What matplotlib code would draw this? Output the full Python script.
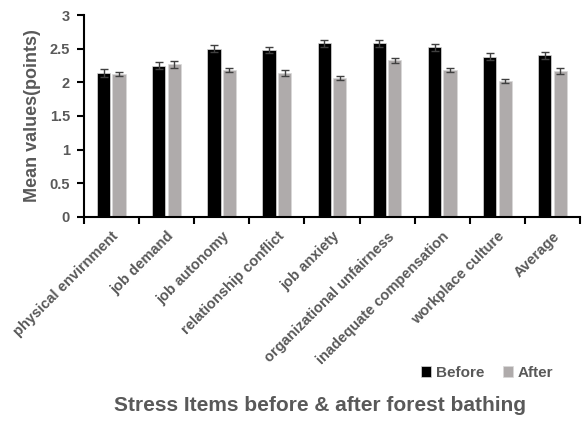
import matplotlib
matplotlib.use('Agg')
import matplotlib.pyplot as plt
from matplotlib.ticker import FixedLocator
import numpy as np

plt.rcParams['font.family'] = ['Liberation Sans', 'DejaVu Sans']

# stress items and mean scores (points) before / after forest bathing
items = ['physical envirnment', 'job demand', 'job autonomy', 'relationship conflict',
         'job anxiety', 'organizational unfairness', 'inadequate compensation',
         'workplace culture', 'Average']
before = [2.14, 2.25, 2.50, 2.48, 2.58, 2.58, 2.52, 2.38, 2.40]
after = [2.12, 2.27, 2.18, 2.14, 2.06, 2.33, 2.19, 2.02, 2.17]
before_err = [0.06, 0.05, 0.05, 0.05, 0.05, 0.05, 0.05, 0.05, 0.05]
after_err = [0.03, 0.05, 0.03, 0.04, 0.03, 0.04, 0.03, 0.03, 0.04]
yticks = [0, 0.5, 1, 1.5, 2, 2.5, 3]
ytick_labels = ['0', '0.5', '1', '1.5', '2', '2.5', '3']

TEXT = '#595959'

fig = plt.figure(figsize=(5.86, 4.21), dpi=100)
ax = fig.add_axes([0.143, 0.485, 0.847, 0.479])

x = np.arange(len(items))
w = 0.24
err_kw = dict(ecolor='#404040', elinewidth=1, capsize=3, capthick=1)
b1 = ax.bar(x - 0.14, before, w, yerr=before_err, color='black',
            edgecolor='#d9d9d9', linewidth=0.5, error_kw=err_kw, label='Before')
b2 = ax.bar(x + 0.14, after, w, yerr=after_err, color='#afabab',
            edgecolor='#d9d9d9', linewidth=0.5, error_kw=err_kw, label='After')

ax.set_xlim(-0.5, len(items) - 0.5)
ax.set_ylim(0, 3)
ax.yaxis.set_major_locator(FixedLocator(yticks))
ax.set_yticklabels(ytick_labels, fontsize=10.5, fontweight='bold', color=TEXT)

# category boundaries as x ticks, names as minor tick labels
ax.set_xticks(np.arange(len(items) + 1) - 0.5)
ax.set_xticklabels([])
ax.set_xticks(x, minor=True)
ax.set_xticklabels(items, minor=True, rotation=45, ha='right', va='top',
                   rotation_mode='anchor', fontsize=10.5, fontweight='bold', color=TEXT)
ax.tick_params(axis='x', which='minor', length=0, pad=9)
ax.tick_params(axis='x', which='major', length=5, width=1.5, color='black')
ax.tick_params(axis='y', length=5, width=1.5, pad=5)

for s in ['top', 'right']:
    ax.spines[s].set_visible(False)
for s in ['left', 'bottom']:
    ax.spines[s].set_linewidth(1.5)

ax.set_ylabel('Mean values(points)', fontsize=13, fontweight='bold', color=TEXT, labelpad=6)

fig.legend(handles=[b1, b2], loc='center', bbox_to_anchor=(0.831, 0.114),
           ncol=2, frameon=False, labelcolor=TEXT,
           prop={'weight': 'bold', 'size': 11},
           handlelength=0.7, handleheight=0.7, handletextpad=0.3, columnspacing=1.2)

fig.text(0.546, 0.036, 'Stress Items before & after forest bathing',
         ha='center', va='center', fontsize=15, fontweight='bold', color=TEXT)

fig.savefig('out.png', dpi=100)
